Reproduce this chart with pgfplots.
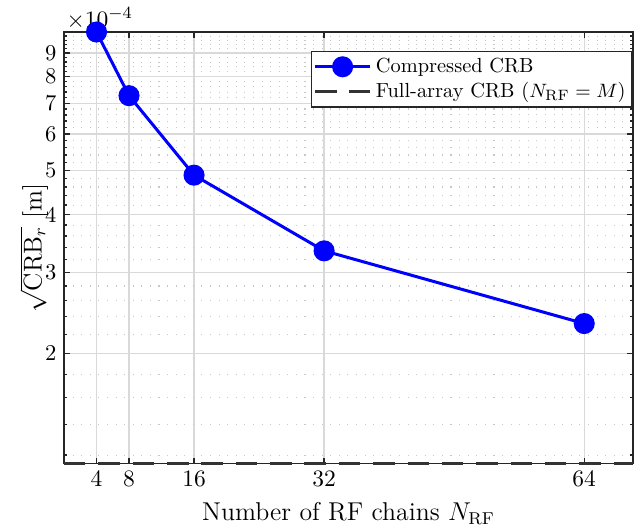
\documentclass[border=0pt]{standalone}
\usepackage{pgfplots}
\pgfplotsset{compat=1.18}
\begin{document}
\begin{tikzpicture}
\begin{axis}[
    scale only axis,
    width=265pt,
    height=201pt,
    xmin=0, xmax=70,
    ymode=log,
    ymin=1.15e-4, ymax=1e-3,
    xtick={4,8,16,32,64},
    ytick={2e-4,3e-4,4e-4,5e-4,6e-4,7e-4,8e-4,9e-4},
    yticklabels={2,3,4,5,6,7,8,9},
    minor ytick={1.2e-4,1.4e-4,1.6e-4,1.8e-4,
                 2.2e-4,2.4e-4,2.6e-4,2.8e-4,
                 3.2e-4,3.4e-4,3.6e-4,3.8e-4,
                 4.2e-4,4.4e-4,4.6e-4,4.8e-4,
                 5.2e-4,5.4e-4,5.6e-4,5.8e-4,
                 6.2e-4,6.4e-4,6.6e-4,6.8e-4,
                 7.2e-4,7.4e-4,7.6e-4,7.8e-4,
                 8.2e-4,8.4e-4,8.6e-4,8.8e-4,
                 9.2e-4,9.4e-4,9.6e-4,9.8e-4},
    grid=major,
    yminorgrids=true,
    major grid style={black!15, line width=0.6pt},
    minor grid style={black!22, line width=0.5pt, dash pattern=on 0.5pt off 3.5pt},
    axis line style={black!85, line width=0.6pt},
    tick style={black!85, line width=0.6pt},
    major tick length=2.8pt,
    minor tick length=1.5pt,
    ticklabel style={font=\fontsize{10.5}{12}\selectfont},
    xlabel={Number of RF chains $N_{\mathrm{RF}}$},
    ylabel={$\sqrt{\mathrm{CRB}_r}$ [m]},
    label style={font=\fontsize{12}{14}\selectfont},
    xlabel style={at={(axis description cs:0.5,-0.116)}, anchor=center},
    ylabel style={at={(axis description cs:-0.053,0.5)}, anchor=center, inner sep=0pt},
    clip=false,
    legend cell align=left,
    legend style={at={(0.434,0.956)}, anchor=north west, draw=black!85, line width=0.5pt,
        font=\fontsize{9.5}{11}\selectfont, inner sep=1pt, row sep=-1pt},
    legend image code/.code={\draw[mark repeat=2, mark phase=2] plot coordinates {(0cm,0cm) (0.45cm,0cm) (0.9cm,0cm)};},
]
% compressed CRB
\addplot[blue, line width=1.4pt, mark=*, mark size=4.2pt]
    coordinates {(4,1.0e-3) (8,7.27e-4) (16,4.88e-4) (32,3.34e-4) (64,2.32e-4)};
% full-array CRB
\addplot[black!80, line width=1.4pt, dash pattern=on 10pt off 6pt]
    coordinates {(0,1.15e-4) (70,1.15e-4)};
\legend{Compressed CRB, Full-array CRB ($N_{\mathrm{RF}}=M$)}
\node[anchor=south west, inner sep=1pt, font=\fontsize{11}{13}\selectfont] at (rel axis cs:0,1) {$\times10^{-4}$};
\end{axis}
\pgfresetboundingbox
\path ([shift={(-29.8pt,-29.8pt)}]current axis.south west) rectangle ([shift={(1.4pt,14.9pt)}]current axis.north east);
\end{tikzpicture}
\end{document}
